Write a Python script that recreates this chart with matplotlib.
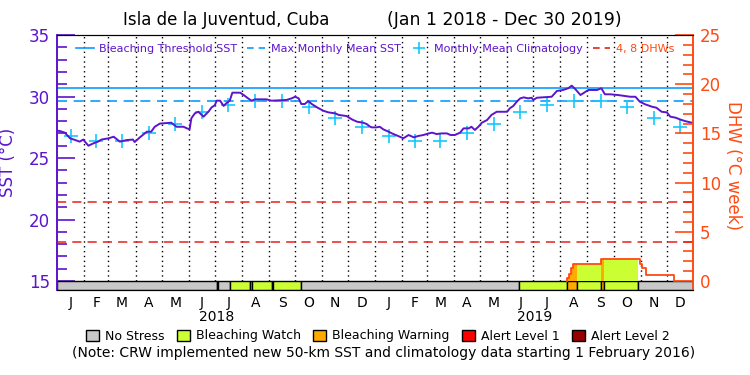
import numpy as np
import matplotlib.pyplot as plt
from matplotlib.patches import Patch
from matplotlib.lines import Line2D

# colours
purple = '#5c14cc'
thr_col = '#0a9cff'
clim_col = '#14c8ff'
dhw_col = '#ff4a14'
red_dash = '#e8201a'
stress_cols = ['#c8c8c8', '#ccff33', '#ffaa00', '#ff0000', '#990000']
stress_names = ['No Stress', 'Bleaching Watch', 'Bleaching Warning', 'Alert Level 1', 'Alert Level 2']

# daily SST (days since 1 Jan 2018)
sst_day = [0, 3, 9, 15, 21, 26, 30, 36, 42, 47, 51, 59, 65, 72, 80, 87, 89, 95, 103, 108,
           112, 118, 131, 137, 145, 149, 152, 154, 158, 162, 166, 168, 174, 177, 181, 183,
           187, 191, 194, 198, 201, 210, 214, 219, 223, 227, 240, 246, 263, 269, 273, 277,
           280, 284, 288, 292, 298, 305, 311, 319, 323, 332, 338, 344, 351, 355, 359, 361,
           366, 370, 374, 380, 384, 391, 397, 403, 409, 414, 420, 426, 430, 435, 441, 447,
           451, 456, 462, 466, 472, 475, 479, 483, 487, 493, 498, 504, 510, 516, 519, 523,
           527, 531, 535, 540, 544, 546, 550, 567, 573, 580, 586, 590, 594, 600, 603, 609,
           619, 624, 628, 634, 643, 657, 663, 668, 674, 682, 687, 693, 699, 703, 709, 714,
           720, 726, 729]
sst_val = [27.22, 27.2, 27.06, 26.6, 26.46, 26.33, 26.5, 26.0, 26.2, 26.33, 26.5, 26.6, 26.73,
           26.33, 26.46, 26.5, 26.3, 26.68, 27.14, 27.14, 27.54, 27.8, 27.87, 27.54, 27.54,
           27.41, 27.33, 28.23, 28.63, 28.76, 28.5, 28.36, 28.8, 29.1, 29.3, 29.66, 29.66,
           29.23, 29.45, 29.66, 30.31, 30.31, 30.12, 29.85, 29.66, 29.77, 29.77, 29.66, 29.72,
           29.85, 29.98, 29.85, 29.39, 29.39, 29.63, 29.39, 29.12, 28.85, 28.71, 28.63, 28.5,
           28.41, 28.14, 27.95, 27.87, 27.76, 27.54, 27.49, 27.49, 27.54, 27.33, 27.14, 27.0,
           26.79, 26.6, 26.87, 26.68, 26.79, 26.87, 27.0, 27.06, 26.95, 27.0, 27.0, 26.87,
           26.87, 27.06, 27.41, 27.41, 27.54, 27.28, 27.54, 27.87, 28.09, 28.5, 28.76, 28.76,
           28.76, 29.04, 29.23, 29.58, 29.85, 29.93, 29.85, 29.9, 29.72, 29.9, 29.98, 30.45,
           30.53, 30.67, 30.88, 30.61, 30.12, 30.26, 30.53, 30.53, 30.67, 30.18, 30.18, 30.12,
           29.98, 29.98, 29.58, 29.37, 29.17, 29.09, 28.76, 28.71, 28.36, 28.28, 28.14, 28.0,
           27.9, 27.82]

clim_month = [26.75, 26.35, 26.35, 27.0, 27.8, 28.73, 29.3, 29.67, 29.67, 29.12, 28.25, 27.56]
threshold = 30.67
mmm = 29.67

# stress periods: start day, level (each runs to the next start)
stress_start = [0, 183, 185, 198, 221, 223, 246, 248, 280, 529, 585, 596, 624, 627, 666]
stress_level = [0, 1, 0, 1, 0, 1, 0, 1, 0, 1, 2, 1, 2, 1, 0]
end_day = 729

# degree heating weeks (step values)
dhw_day = [585, 587, 589, 592, 624, 668, 671, 675, 707]
dhw_val = [2/7, 5/7, 9/7, 12/7, 16/7, 12/7, 9/7, 4/7, 0]

months = ['J', 'F', 'M', 'A', 'M', 'J', 'J', 'A', 'S', 'O', 'N', 'D']
years = ['2018', '2019']

start = np.datetime64('2018-01-01')
mstart = np.arange(np.datetime64('2018-01'), np.datetime64('2020-02'), dtype='datetime64[M]')
ms_day = (mstart.astype('datetime64[D]') - start).astype(int)
mid_day = (ms_day[:-1] + ms_day[1:]) / 2.0
ms_day = ms_day[:-1]

ymin = 14.27

fig = plt.figure(figsize=(7.5, 3.75), dpi=100)
ax = fig.add_axes([57/750, 1 - 290/375, 636/750, 255/375])
ax2 = ax.twinx()

ax.set_xlim(0, end_day)
ax.set_ylim(ymin, 35)
ax2.set_ylim((ymin - 15) * 1.25, 25)

# month dotted lines
ax.vlines(ms_day[1:], 15, 35, colors='black', linestyles=(0, (1, 2.5)), lw=1, zorder=1)

ax.axhline(threshold, color=thr_col, lw=1.2, zorder=2)
ax.axhline(mmm, color=thr_col, lw=1.2, ls=(0, (6, 4)), zorder=2)
ax.plot(mid_day, clim_month * 2, '+', color=clim_col, ms=10, mew=1.2, zorder=3)
ax.plot(sst_day, sst_val, color=purple, lw=1.4, zorder=4)

# stress bar
ends = stress_start[1:] + [end_day]
for s, e, lev in zip(stress_start, ends, stress_level):
    ax.bar(s, 15 - ymin, width=e - s, bottom=ymin, align='edge',
           color=stress_cols[lev], edgecolor='black', lw=1, zorder=5)

# DHW on right axis
ax2.axhline(4, color=red_dash, lw=1.1, ls=(0, (6, 4)))
ax2.axhline(8, color=red_dash, lw=1.1, ls=(0, (6, 4)))
dd = np.array(dhw_day)
dv = np.array(dhw_val)
for s, e, lev in zip(stress_start, ends, stress_level):
    if lev == 0:
        continue
    xs = np.arange(s, e + 1)
    idx = np.searchsorted(dd, xs, side='right') - 1
    ys = np.where(idx >= 0, dv[np.clip(idx, 0, None)], 0)
    ax2.fill_between(xs, 0, ys, step='post', color=stress_cols[lev], lw=0)
ax2.step([dhw_day[0]] + dhw_day, [0] + dhw_val, where='post', color=dhw_col, lw=1.3)

# axes styling
ax.set_xticks(mid_day)
ax.set_xticklabels(months * 2, fontsize=10)
ax.tick_params(axis='x', length=0, pad=4)
for yr, lab in enumerate(years):
    ax.text(182.5 + 365 * yr, -0.105, lab, transform=ax.get_xaxis_transform(),
            ha='center', va='center', fontsize=10)

ax.set_yticks([15, 20, 25, 30, 35])
ax.set_yticks(np.arange(15, 36, 1), minor=True)
ax.tick_params(axis='y', which='major', direction='in', length=13, width=1.2,
               colors=purple, labelsize=12, pad=5)
ax.tick_params(axis='y', which='minor', direction='in', length=7, width=1.2, colors=purple)
ax.set_ylabel('SST (°C)', color=purple, fontsize=12)
ax.yaxis.set_label_coords(-0.063, 0.5)

ax2.set_yticks([0, 5, 10, 15, 20, 25])
ax2.set_yticks(np.arange(0, 26, 1), minor=True)
ax2.tick_params(axis='y', which='major', direction='in', length=13, width=1.2,
                colors=dhw_col, labelsize=12, pad=5)
ax2.tick_params(axis='y', which='minor', direction='in', length=7, width=1.2, colors=dhw_col)
ax2.set_ylabel('DHW (°C week)', color=dhw_col, fontsize=12, rotation=270, va='center')
ax2.yaxis.set_label_coords(1.063, 0.49)

for a in (ax, ax2):
    a.spines['left'].set_color(purple)
    a.spines['right'].set_color(dhw_col)
    a.spines['top'].set_color('black')
    a.spines['bottom'].set_color('black')
    a.spines['left'].set_linewidth(1.2)
    a.spines['right'].set_linewidth(1.2)

# top legend
handles = [Line2D([], [], color=thr_col, lw=1.2),
           Line2D([], [], color=thr_col, lw=1.2, ls=(0, (4, 3))),
           Line2D([], [], color=clim_col, marker='+', ls='none', ms=9, mew=1.2),
           Line2D([], [], color=red_dash, lw=1.2, ls=(0, (4, 3)))]
labels = ['Bleaching Threshold SST', 'Max Monthly Mean SST',
          'Monthly Mean Climatology', '4, 8 DHWs']
leg = ax2.legend(handles, labels, loc='upper center', bbox_to_anchor=(0.5, 1.0), ncol=4,
                 frameon=False, fontsize=8, handlelength=1.6, columnspacing=0.9,
                 handletextpad=0.5, borderaxespad=0.4)
for t, c in zip(leg.get_texts(), [purple, purple, purple, dhw_col]):
    t.set_color(c)

# titles
fig.text(226/750, 1 - 20/375, 'Isla de la Juventud, Cuba', ha='center', va='center', fontsize=12)
fig.text(504/750, 1 - 20/375, '(Jan 1 2018 - Dec 30 2019)', ha='center', va='center', fontsize=12.5)

# stress legend
patches = [Patch(facecolor=c, edgecolor='black', lw=1) for c in stress_cols]
fig.legend(patches, stress_names, loc='center', bbox_to_anchor=(378/750, 1 - 336/375), ncol=5,
           frameon=False, fontsize=9, handlelength=1.0, handleheight=1.0,
           columnspacing=1.0, handletextpad=0.5)
fig.text(384/750, 1 - 353/375,
         '(Note: CRW implemented new 50-km SST and climatology data starting 1 February 2016)',
         ha='center', va='center', fontsize=10)

fig.savefig('out.png', dpi=100)
